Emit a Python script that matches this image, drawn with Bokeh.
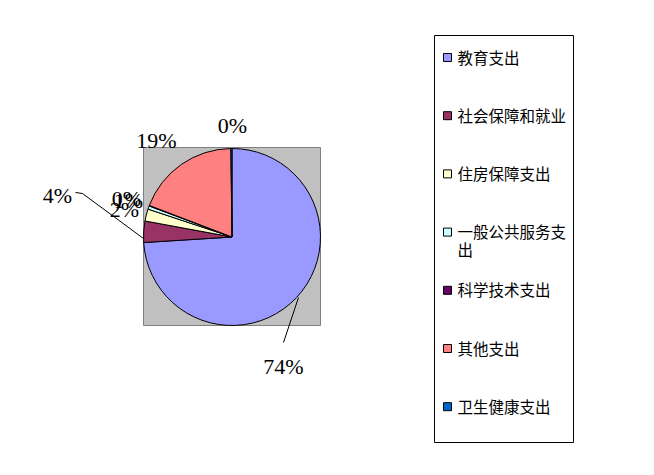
import math
from bokeh.plotting import figure
from bokeh.models import Range1d, ColumnDataSource
from bokeh.core.properties import value
from bokeh.embed import file_html
from bokeh.resources import INLINE

# ---- data ----
categories = ["教育支出", "社会保障和就业", "住房保障支出", "一般公共服务支出",
              "科学技术支出", "其他支出", "卫生健康支出"]
shares = [74.0, 3.9, 2.2, 0.6, 0.1, 19.0, 0.2]
colors = ["#9999FF", "#993366", "#FFFFCC", "#CCFFFF", "#660066", "#FF8080", "#0066CC"]

# ---- layout (reference pixel coords, y down) ----
W, H = 638, 459
label_pos = [(283, 366), (57, 195), (124, 209), (128, 200), (126, 198), (156, 140), (232, 125)]
leader_lines = [
    [(298, 297), (283, 342)],
    [(75, 192), (82, 193), (143, 238)],
]
cx, cy, r = 231.5, 236.5, 88.5
plot_box = (143, 147, 320, 325)
legend_box = (434, 35, 573, 442)
legend_y0, legend_dy = 57, 58.2

def Y(y):
    return 475 - y

p = figure(width=W, height=H, x_range=Range1d(0, W), y_range=Range1d(475 - H, 475),
           output_backend="svg", toolbar_location=None, min_border=0)
p.axis.visible = False
p.grid.visible = False
p.outline_line_color = None
p.background_fill_color = "white"
p.border_fill_color = "white"

# plot area
x0, y0, x1, y1 = plot_box
p.quad(left=[x0], right=[x1], top=[Y(y0)], bottom=[Y(y1)],
       fill_color="#C0C0C0", line_color="#808080", line_width=1)

# pie wedges, clockwise from 12 o'clock
total = sum(shares)
starts, ends = [], []
acc = 0.0
for v in shares:
    a0 = math.pi / 2 - acc / total * 2 * math.pi
    acc += v
    a1 = math.pi / 2 - acc / total * 2 * math.pi
    starts.append(a0)
    ends.append(a1)
src = ColumnDataSource(dict(start=starts, end=ends, color=colors))
p.wedge(x=cx, y=Y(cy), radius=r, start_angle="start", end_angle="end", direction="clock",
        fill_color="color", line_color="black", line_width=1, source=src)

# leader lines
for seg in leader_lines:
    p.line([q[0] for q in seg], [Y(q[1]) for q in seg], line_color="black", line_width=1)

# data labels
labels = [f"{round(v / total * 100)}%" for v in shares]
p.text(x=[q[0] for q in label_pos], y=[Y(q[1]) for q in label_pos], text=labels,
       text_font=value("Liberation Serif"), text_font_size="22px", text_color="black",
       text_align="center", text_baseline="middle")

# legend
lx0, ly0, lx1, ly1 = legend_box
p.quad(left=[lx0], right=[lx1], top=[Y(ly0)], bottom=[Y(ly1)],
       fill_color="white", line_color="black", line_width=1)

def wrap(s, n=7):
    return "\n".join(s[i:i + n] for i in range(0, len(s), n))

ys = [legend_y0 + i * legend_dy for i in range(len(categories))]
p.rect(x=[447] * len(categories), y=[Y(y) for y in ys], width=8, height=8,
       fill_color=colors, line_color="black", line_width=1)
p.text(x=[457] * len(categories), y=[Y(y - 12) for y in ys], text=[wrap(c) for c in categories],
       text_font=value("Noto Sans CJK SC"), text_font_size="15.5px", text_color="black",
       text_align="left", text_baseline="top", text_line_height=0.8)

open("out.html", "w").write(file_html(p, INLINE))
